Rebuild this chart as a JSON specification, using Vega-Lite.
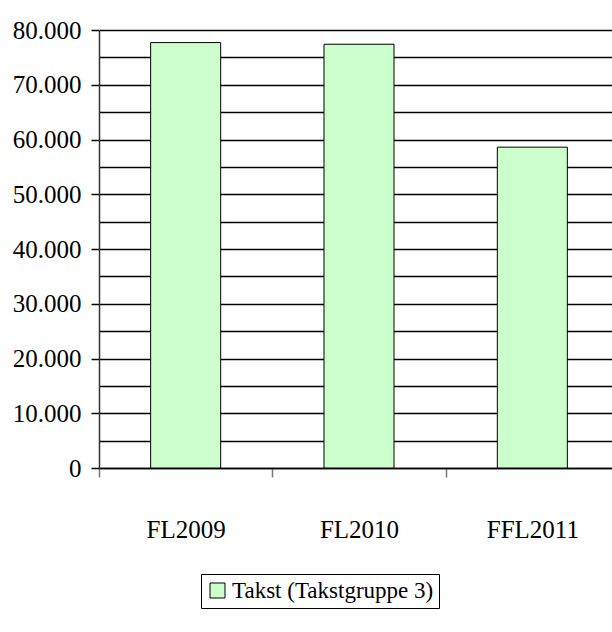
{
  "$schema": "https://vega.github.io/schema/vega-lite/v6.json",
  "width": 513,
  "height": 438,
  "autosize": {"type": "none"},
  "padding": {"left": 99, "top": 30, "right": 0, "bottom": 164},
  "background": "white",
  "config": {"view": {"stroke": null}, "font": "Liberation Serif", "axis": {"labelFont": "Liberation Serif"}},
  "data": {
    "values": [
      {"year": "FL2009", "value": 77700, "series": "Takst (Takstgruppe 3)"},
      {"year": "FL2010", "value": 77400, "series": "Takst (Takstgruppe 3)"},
      {"year": "FFL2011", "value": 58600, "series": "Takst (Takstgruppe 3)"}
    ]
  },
  "mark": {"type": "bar", "stroke": "black", "strokeWidth": 1, "width": {"band": 0.404}},
  "encoding": {
    "x": {
      "field": "year",
      "type": "nominal",
      "sort": null,
      "scale": {"range": [0, 520], "paddingInner": 0, "paddingOuter": 0},
      "axis": {
        "title": null,
        "labelAngle": 0,
        "domainColor": "black",
        "domainWidth": 1.5,
        "tickBand": "extent",
        "tickColor": "#777777",
        "tickWidth": 1.5,
        "tickSize": 9,
        "labelPadding": 40,
        "labelFont": "Liberation Serif",
        "labelFontSize": 25,
        "labelColor": "black",
        "grid": false
      }
    },
    "y": {
      "field": "value",
      "type": "quantitative",
      "scale": {"domain": [0, 80000], "nice": false},
      "axis": {
        "title": null,
        "values": [0, 5000, 10000, 15000, 20000, 25000, 30000, 35000, 40000, 45000, 50000, 55000, 60000, 65000, 70000, 75000, 80000],
        "labelExpr": "datum.value % 10000 == 0 ? replace(format(datum.value, ','), ',', '.') : ''",
        "grid": true,
        "gridColor": "black",
        "gridWidth": 1.5,
        "gridOpacity": 1,
        "domainColor": "#333333",
        "domainWidth": 1.5,
        "tickColor": "black",
        "tickWidth": 1.5,
        "tickSize": 8,
        "tickOpacity": {"condition": {"test": "datum.value % 10000 != 0", "value": 0}, "value": 1},
        "labelPadding": 10,
        "labelFont": "Liberation Serif",
        "labelFontSize": 25,
        "labelColor": "black",
        "encode": {"labels": {"update": {"font": {"value": "Liberation Serif"}}}}
      }
    },
    "color": {
      "field": "series",
      "type": "nominal",
      "scale": {"range": ["#ccffcc"]},
      "legend": {
        "title": null,
        "orient": "none",
        "legendX": 102,
        "legendY": 544,
        "strokeColor": "black",
        "padding": 5,
        "symbolType": "square",
        "symbolSize": 225,
        "symbolStrokeColor": "black",
        "symbolStrokeWidth": 1,
        "symbolOpacity": 1,
        "labelFont": "Liberation Serif",
        "labelFontSize": 23,
        "labelColor": "black",
        "labelLimit": 0,
        "labelOffset": 3
      }
    }
  }
}
